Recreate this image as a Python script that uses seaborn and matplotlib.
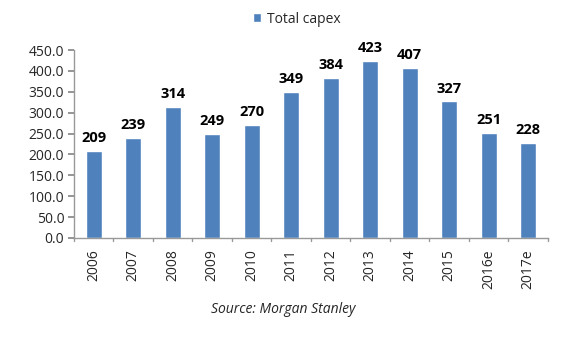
import matplotlib
matplotlib.use("Agg")
import matplotlib.pyplot as plt
import seaborn as sns
import pandas as pd

years = ["2006", "2007", "2008", "2009", "2010", "2011", "2012", "2013", "2014", "2015", "2016e", "2017e"]
capex = [209, 239, 314, 249, 270, 349, 384, 423, 407, 327, 251, 228]
series_name = "Total capex"
source_text = "Source: Morgan Stanley"

sns.set_theme(style="white")
plt.rcParams["font.family"] = ["Open Sans", "DejaVu Sans"]

df = pd.DataFrame({"year": years, "value": capex, "series": series_name})

fig = plt.figure(figsize=(5.78, 3.38), dpi=100)
ax = fig.add_axes([0.128, 0.296, 0.82, 0.556])
color = "#4F81BD"
sns.barplot(data=df, x="year", y="value", hue="series", palette=[color], width=0.40,
            ax=ax, legend=True, saturation=1)

ax.set_ylim(0, 450)
ax.set_yticks([i * 50 for i in range(10)])
ax.set_yticklabels([f"{i*50:.1f}" for i in range(10)], fontsize=10)
ax.set_xlim(-0.5, len(years) - 0.5)
ax.set_xlabel("")
ax.set_ylabel("")
ax.tick_params(axis="x", labelrotation=90, labelsize=10, length=0, pad=8)
ax.tick_params(axis="y", length=4, color="#888888", direction="out", left=True, pad=3)
for sp in ["top", "right"]:
    ax.spines[sp].set_visible(False)
for sp in ["left", "bottom"]:
    ax.spines[sp].set_color("#999999")
    ax.spines[sp].set_linewidth(1)

# category boundary ticks on x axis
for i in range(len(years) + 1):
    ax.plot([i - 0.5, i - 0.5], [0, -8], color="#999999", lw=1, clip_on=False,
            transform=ax.transData)

for i, v in enumerate(capex):
    ax.text(i, v + 14, f"{v}", ha="center", va="bottom", fontsize=10.5, fontweight="bold",
            color="#000000")

leg = ax.legend(loc="upper center", bbox_to_anchor=(0.47, 1.27), frameon=False,
                fontsize=10, handlelength=0.6, handleheight=0.6, handletextpad=0.4)

fig.text(0.49, 0.085, source_text, ha="center", va="center", fontsize=10, style="italic")

fig.savefig("out.png", dpi=100)
